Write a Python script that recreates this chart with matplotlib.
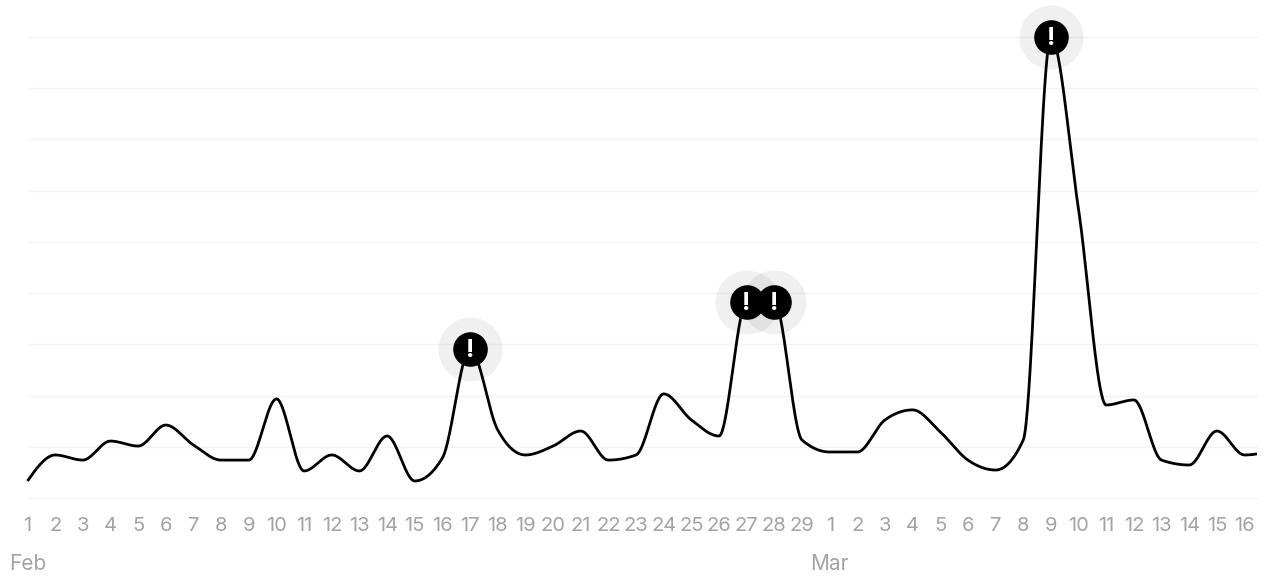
import numpy as np
import matplotlib
matplotlib.use("Agg")
import matplotlib.pyplot as plt

plt.rcParams['font.family'] = ['Inter', 'DejaVu Sans']

W, H = 1268, 577

feb_days = list(range(1, 30))
mar_days = list(range(1, 17))
tick_labels = [str(d) for d in feb_days + mar_days]
month_labels = ["Feb", "Mar"]
month_positions = [0, 29]

values = [
    1.66, 4.2, 3.7, 5.56, 5.07, 7.12, 5.17, 3.7, 3.7, 9.67,
    2.64, 4.2, 2.64, 6.05, 1.66, 3.91, 14.55, 6.64, 4.2, 5.07,
    6.54, 3.7, 4.2, 10.16, 7.62, 6.05, 19.14, 19.14, 5.66, 4.49,
    4.49, 7.62, 8.6, 6.45, 3.7, 2.73, 5.66, 45.0, 28.13, 9.08,
    9.57, 3.7, 3.22, 6.54, 4.2,
]
next_value = 4.6  # the line runs on past the last labelled day
alerts = [16, 26, 27, 37]
grid_values = [0, 5, 10, 15, 20, 25, 30, 35, 40, 45]


def monotone_x(x, y, per=40):
    """Monotone cubic interpolation, the smoothing used by the line."""
    x, y = np.asarray(x, float), np.asarray(y, float)
    h = np.diff(x)
    s = np.diff(y) / h
    m = np.zeros_like(y)
    for i in range(1, len(y) - 1):
        p = (s[i - 1] * h[i] + s[i] * h[i - 1]) / (h[i - 1] + h[i])
        m[i] = (np.sign(s[i - 1]) + np.sign(s[i])) * min(
            abs(s[i - 1]), abs(s[i]), 0.5 * abs(p))
    m[0] = (3 * s[0] - m[1]) / 2
    m[-1] = (3 * s[-1] - m[-2]) / 2
    xs, ys = [], []
    for i in range(len(h)):
        t = np.linspace(0, 1, per, endpoint=False)
        a = (1 + 2 * t) * (1 - t) ** 2
        b = t * (1 - t) ** 2
        c = t ** 2 * (3 - 2 * t)
        d = t ** 2 * (t - 1)
        xs.append(x[i] + t * h[i])
        ys.append(a * y[i] + b * h[i] * m[i] + c * y[i + 1] + d * h[i] * m[i + 1])
    return np.r_[np.concatenate(xs), x[-1]], np.r_[np.concatenate(ys), y[-1]]


fig = plt.figure(figsize=(W / 100, H / 100), dpi=100, facecolor="white")
left, right, bottom, top = 27.5, 1257, 498, 37
ax = fig.add_axes([left / W, 1 - bottom / H, (right - left) / W, (bottom - top) / H])
x = np.arange(len(values))
xmax = (right - left) / 27.66
ax.set_xlim(0, xmax)
ax.set_ylim(0, 45)
for s in ax.spines.values():
    s.set_visible(False)

for g in grid_values:
    ax.axhline(g, color="#f3f3f3", lw=1.0, zorder=1, clip_on=False,
               solid_capstyle="butt")

sx, sy = monotone_x(np.arange(len(values) + 1), values + [next_value])
keep = sx <= xmax
ax.plot(sx[keep], sy[keep], color="black", lw=2.0, zorder=3, clip_on=False,
        solid_joinstyle="round", solid_capstyle="butt")

ax_x = [x[i] for i in alerts]
ax_y = [values[i] for i in alerts]
ax.scatter(ax_x, ax_y, s=2123, color="black", alpha=0.06, linewidths=0, zorder=2, clip_on=False)
ax.scatter(ax_x, ax_y, s=620, color="black", linewidths=0, zorder=4, clip_on=False)
for xi, yi in zip(ax_x, ax_y):
    ax.annotate("!", (xi, yi), xytext=(0, -1), textcoords="offset points",
                color="white", fontsize=18, fontweight="bold",
                ha="center", va="center", zorder=5, annotation_clip=False)

ax.set_yticks([])
ax.set_xticks(x)
ax.set_xticklabels(tick_labels, fontsize=14.5, color="#a3a3a3")
ax.tick_params(axis="x", length=0, pad=13.7)

trans = ax.get_xaxis_transform()
for p, lab in zip(month_positions, month_labels):
    ax.text(p, -66 / 461, lab, transform=trans, ha="center", va="center",
            fontsize=15, color="#a3a3a3")

fig.savefig("out.png", dpi=100, facecolor="white")
